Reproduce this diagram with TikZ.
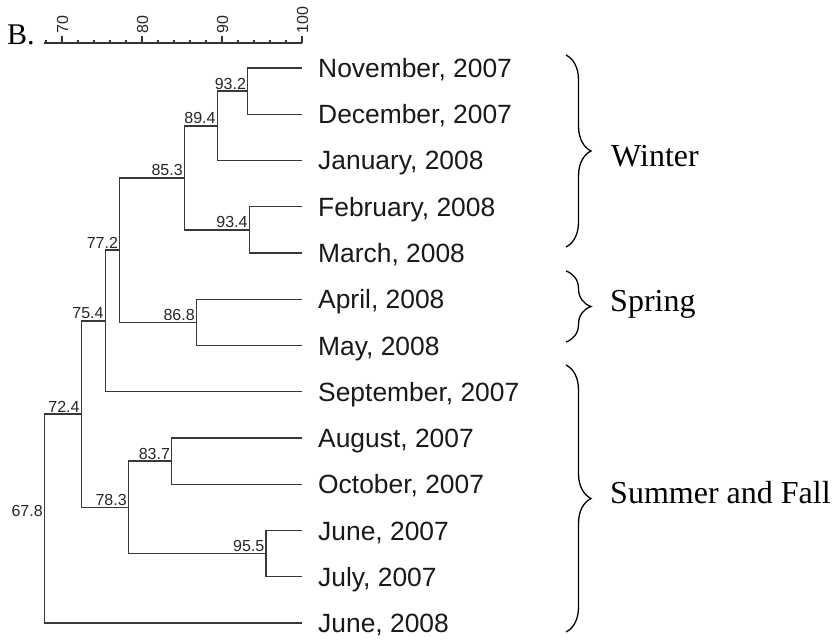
\documentclass[tikz,border=0pt]{standalone}
\usepackage{fontspec}
\setmainfont{Liberation Serif}
\newfontfamily\arialfont{Liberation Sans}
\usetikzlibrary{decorations.pathreplacing}
\begin{document}
\begin{tikzpicture}[x=1pt,y=-1pt,
  branch/.style={draw=black!78,line width=1.4pt},
  axisline/.style={draw=black!80,line width=1.2pt},
  leaflabel/.style={anchor=base west,inner sep=0pt,font=\arialfont\fontsize{26.4}{30}\selectfont,text=black!90},
  simlabel/.style={anchor=base east,inner sep=0pt,font=\arialfont\fontsize{16}{18}\selectfont,text=black!85},
  ticklabel/.style={anchor=west,rotate=90,inner sep=0pt,font=\arialfont\fontsize{16}{18}\selectfont,text=black!85},
  grouplabel/.style={anchor=base west,inner sep=0pt,font=\fontsize{32}{36}\selectfont},
  groupbrace/.style={draw=black,line width=1.3pt,decorate,decoration={brace,amplitude=25pt}}]
\useasboundingbox (0,0) rectangle (834,644);

% panel letter
\node[anchor=base west,inner sep=0pt,font=\fontsize{30}{34}\selectfont] (panel) at (7,45) {B.};

% scale axis
\coordinate (axL) at (44.4,43);
\coordinate (axR) at (302,43);
\draw[axisline] (axL) -- (axR);
\foreach \v in {68,72,74,76,78,82,84,86,88,92,94,96,98}
  \draw[axisline] ({8*\v-498},43) -- ({8*\v-498},40);
\foreach \v in {70,80,90,100}{
  \draw[axisline] ({8*\v-498},43) -- ({8*\v-498},36.5);
  \node[ticklabel] (t\v) at ({8*\v-498+0.5},33.5) {\v};
}

% leaves (right ends at similarity 100)
\coordinate (l1) at (302,68);
\coordinate (l2) at (302,114.25);
\coordinate (l3) at (302,160.5);
\coordinate (l4) at (302,206.75);
\coordinate (l5) at (302,253);
\coordinate (l6) at (302,299.25);
\coordinate (l7) at (302,345.5);
\coordinate (l8) at (302,391.75);
\coordinate (l9) at (302,438);
\coordinate (l10) at (302,484.25);
\coordinate (l11) at (302,530.5);
\coordinate (l12) at (302,576.75);
\coordinate (l13) at (302,623);

\foreach \i/\t in {1/{November, 2007},2/{December, 2007},3/{January, 2008},4/{February, 2008},5/{March, 2008},6/{April, 2008},7/{May, 2008},8/{September, 2007},9/{August, 2007},10/{October, 2007},11/{June, 2007},12/{July, 2007},13/{June, 2008}}
  \node[leaflabel] (lab\i) at ([xshift=16pt,yshift=-9.5pt]l\i) {\t};

% internal nodes: x = 8*sim - 498
\coordinate (n932) at (247.6,91.125);
\coordinate (n894) at (217.2,125.81);
\coordinate (n934) at (249.2,229.875);
\coordinate (n853) at (184.4,177.84);
\coordinate (n868) at (196.4,322.375);
\coordinate (n772) at (119.6,250.11);
\coordinate (n754) at (105.2,320.93);
\coordinate (n837) at (171.6,461.125);
\coordinate (n955) at (266,553.625);
\coordinate (n783) at (128.4,507.375);
\coordinate (n724) at (81.2,414.15);
\coordinate (n678) at (44.4,518.58);

% branches
\draw[branch] (l1) -| (n932);
\draw[branch] (l2) -| (n932);
\draw[branch] (n932) -| (n894);
\draw[branch] (l3) -| (n894);
\draw[branch] (l4) -| (n934);
\draw[branch] (l5) -| (n934);
\draw[branch] (n894) -| (n853);
\draw[branch] (n934) -| (n853);
\draw[branch] (l6) -| (n868);
\draw[branch] (l7) -| (n868);
\draw[branch] (n853) -| (n772);
\draw[branch] (n868) -| (n772);
\draw[branch] (n772) -| (n754);
\draw[branch] (l8) -| (n754);
\draw[branch] (l9) -| (n837);
\draw[branch] (l10) -| (n837);
\draw[branch] (l11) -| (n955);
\draw[branch] (l12) -| (n955);
\draw[branch] (n837) -| (n783);
\draw[branch] (n955) -| (n783);
\draw[branch] (n754) -| (n724);
\draw[branch] (n783) -| (n724);
\draw[branch] (n724) -| (n678);
\draw[branch] (l13) -| (n678);

% similarity labels
\foreach \n/\t in {n932/93.2,n894/89.4,n934/93.4,n853/85.3,n868/86.8,n772/77.2,n754/75.4,n837/83.7,n955/95.5,n783/78.3,n724/72.4,n678/67.8}
  \node[simlabel] (s\n) at ([xshift=-1.5pt,yshift=2pt]\n) {\t};

% group braces
\coordinate (wT) at (566,55);
\coordinate (wB) at (566,247);
\coordinate (sT) at (566,271);
\coordinate (sB) at (566,342);
\coordinate (fT) at (566,365);
\coordinate (fB) at (566,632);
\draw[groupbrace] (wT) -- (wB);
\draw[groupbrace] (sT) -- (sB);
\draw[groupbrace] (fT) -- (fB);
\node[grouplabel] (winter) at (611,167) {Winter};
\node[grouplabel] (spring) at (610,311) {Spring};
\node[grouplabel] (summer) at (610,503) {Summer and Fall};
\end{tikzpicture}
\end{document}
